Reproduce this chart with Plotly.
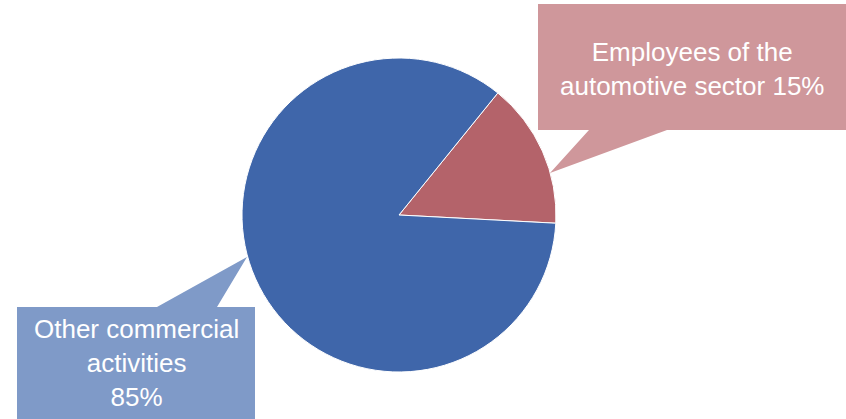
import plotly.graph_objects as go

labels = ["Employees of the automotive sector", "Other commercial activities"]
values = [15, 85]
colors = ["#B4636A", "#3F66AA"]

W, H = 846, 419

def px(x, y):
    return x / W, 1 - y / H

def path(points):
    pts = [px(x, y) for x, y in points]
    return "M " + " L ".join(f"{a:.5f},{b:.5f}" for a, b in pts) + " Z"

fig = go.Figure(go.Pie(
    labels=labels, values=values, sort=False, direction="clockwise",
    rotation=39, marker=dict(colors=colors, line=dict(color="white", width=1)),
    textinfo="none", hoverinfo="label+percent",
    domain=dict(x=[(399 - 157) / W, (399 + 157) / W],
                y=[(419 - 215 - 157) / H, (419 - 215 + 157) / H]),
))

red_box = [(538, 4), (846, 4), (846, 130), (667, 130), (550, 173), (589, 130), (538, 130)]
blue_box = [(17, 307), (157, 307), (247, 257), (217, 307), (255, 307), (255, 419), (17, 419)]

shapes = [
    dict(type="path", xref="paper", yref="paper", path=path(red_box),
         fillcolor="#CF979B", line=dict(width=0)),
    dict(type="path", xref="paper", yref="paper", path=path(blue_box),
         fillcolor="#7F9AC8", line=dict(width=0)),
]

font = dict(family="Liberation Sans, Arial, sans-serif", size=26, color="white")
annotations = [
    dict(xref="paper", yref="paper", x=px(692, 69)[0], y=px(692, 69)[1],
         text="Employees of the<br>automotive sector 15%", showarrow=False,
         font=font, align="center", xanchor="center", yanchor="middle"),
    dict(xref="paper", yref="paper", x=px(136, 363)[0], y=px(136, 363)[1],
         text="Other commercial<br>activities<br>85%", showarrow=False,
         font=font, align="center", xanchor="center", yanchor="middle"),
]

fig.update_layout(width=W, height=H, margin=dict(l=0, r=0, t=0, b=0),
                  paper_bgcolor="white", showlegend=False,
                  shapes=shapes, annotations=annotations)

fig.write_html("out.html", config={"displayModeBar": False},
               post_script="document.body.style.margin='0';document.body.style.overflow='hidden';")
